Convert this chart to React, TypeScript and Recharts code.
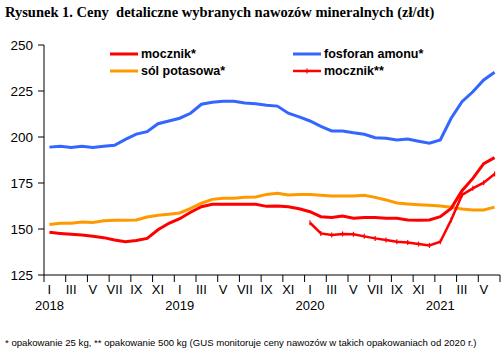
import React from 'react';
import { LineChart, Line, XAxis, YAxis } from 'recharts';

const ROMAN = ['I', 'II', 'III', 'IV', 'V', 'VI', 'VII', 'VIII', 'IX', 'X', 'XI', 'XII'];
const YEARS = ['2018', '2019', '2020', '2021'];

// monthly prices, I 2018 - VI 2021 (zł/dt)
const mocznik25 = [
  148.2, 147.6, 147.1, 146.7, 146, 145.3, 144, 143.1, 143.8, 144.9, 149.6, 153.1,
  155.6, 159.1, 162.1, 163.4, 163.4, 163.4, 163.4, 163.4, 162.3, 162.5, 162.1, 161,
  159.4, 156.7, 156.3, 157, 155.8, 156.3, 156.2, 155.8, 155.8, 154.9, 154.7, 154.9,
  156.7, 161.2, 170.8, 177.5, 185.5, 188.8,
];
const fosforan = [
  194.5, 195, 194.3, 195, 194.3, 195, 195.5, 198.7, 201.6, 202.9, 207.2, 208.7,
  210.2, 212.9, 217.8, 218.9, 219.4, 219.4, 218.5, 218.1, 217.3, 216.8, 212.9, 210.9,
  208.7, 205.8, 203.3, 203.3, 202.3, 201.5, 199.6, 199.3, 198.4, 198.9, 197.7, 196.6,
  198.4, 210.2, 219.2, 224.6, 231, 235.2,
];
const solPotasowa = [
  152.5, 153.1, 153.1, 153.8, 153.6, 154.5, 154.7, 154.7, 154.9, 156.5, 157.5, 158,
  158.7, 161.2, 164, 166.1, 166.7, 166.7, 167.2, 167.4, 168.8, 169.4, 168.5, 168.8,
  168.8, 168.3, 167.9, 167.9, 167.9, 168.3, 167.2, 165.8, 164.1, 163.6, 163.2, 162.9,
  162.5, 161.8, 160.9, 160.3, 160.3, 161.9,
];
// 500 kg bags only monitored from 2020
const mocznik500 = [
  null, null, null, null, null, null, null, null, null, null, null, null,
  null, null, null, null, null, null, null, null, null, null, null, null,
  153.4, 147.6, 146.7, 147.3, 147.1, 146, 144.9, 144, 143.1, 142.6, 141.8, 141.1,
  143.1, 154.9, 168.5, 172.1, 175.2, 179.9,
];

const Y_TICKS = [125, 150, 175, 200, 225, 250];

const data = mocznik25.map((v, i) => ({
  i,
  mocznik25: v,
  fosforan: fosforan[i],
  solPotasowa: solPotasowa[i],
  mocznik500: mocznik500[i],
}));

const N = data.length;
// tick marks sit on month boundaries, every second month
const X_TICKS = Array.from({ length: N / 2 + 1 }, (_, k) => -0.5 + 2 * k);

const PLOT_W = 456;
const STEP = PLOT_W / N;
const FONT = '"Liberation Sans", Arial, sans-serif';

const COLORS = {
  mocznik: '#ff0000',
  fosforan: '#3366ff',
  sol: '#ff9900',
};

function MonthTick(props: any) {
  const { x, y, payload } = props;
  const m = payload.value + 0.5;
  const cx = x + STEP / 2;
  return (
    <g>
      <line x1={x} x2={x} y1={y} y2={y + 7} stroke="#000" strokeWidth={1} />
      {m < N && (
        <text x={cx} y={y + 19} textAnchor="middle" fontSize={13} fontFamily={FONT} fill="#000">
          {ROMAN[m % 12]}
        </text>
      )}
      {m < N && m % 12 === 0 && (
        <text x={cx} y={y + 35} textAnchor="middle" fontSize={13} fontFamily={FONT} fill="#000">
          {YEARS[m / 12]}
        </text>
      )}
    </g>
  );
}

function PlusDot(props: any) {
  const { cx, cy, index } = props;
  if (cx == null || cy == null) return <g key={`d-${index}`} />;
  return (
    <g key={`d-${index}`}>
      <line x1={cx} x2={cx} y1={cy - 2.5} y2={cy + 2.5} stroke={COLORS.mocznik} strokeWidth={1.2} />
    </g>
  );
}

const legendItems = [
  { name: 'mocznik*', color: COLORS.mocznik, left: 110, top: 46, plus: false },
  { name: 'fosforan amonu*', color: COLORS.fosforan, left: 293, top: 46, plus: false },
  { name: 'sól potasowa*', color: COLORS.sol, left: 110, top: 63, plus: false },
  { name: 'mocznik**', color: COLORS.mocznik, left: 293, top: 63, plus: true },
];

export default function App() {
  return (
    <div style={{ position: 'absolute', left: 0, top: 0, width: 503, height: 353, background: '#fff' }}>
      <div
        style={{
          position: 'absolute',
          left: 5,
          top: 4,
          fontFamily: '"Liberation Serif", "Times New Roman", serif',
          fontWeight: 'bold',
          fontSize: 14.5,
          whiteSpace: 'pre',
          lineHeight: '17px',
        }}
      >
        {'Rysunek 1. Ceny  detaliczne wybranych nawozów mineralnych (zł/dt)'}
      </div>

      <LineChart width={503} height={353} data={data} margin={{ top: 45, right: 3, bottom: 33, left: 4 }}>
        <XAxis
          dataKey="i"
          type="number"
          domain={[-0.5, N - 0.5]}
          ticks={X_TICKS}
          interval={0}
          tickSize={0}
          tickMargin={0}
          tickLine={false}
          tick={<MonthTick />}
          height={45}
          axisLine={{ stroke: '#000' }}
        />
        <YAxis
          domain={[125, 250]}
          ticks={Y_TICKS}
          interval={0}
          width={40}
          tickSize={6}
          tickMargin={5}
          axisLine={{ stroke: '#000' }}
          tickLine={{ stroke: '#000' }}
          tick={{ fontSize: 13.5, fontFamily: FONT, fill: '#000' }}
        />
        <Line dataKey="solPotasowa" stroke={COLORS.sol} strokeWidth={3} dot={false} isAnimationActive={false} />
        <Line dataKey="fosforan" stroke={COLORS.fosforan} strokeWidth={3} dot={false} isAnimationActive={false} />
        <Line dataKey="mocznik25" stroke={COLORS.mocznik} strokeWidth={3} dot={false} isAnimationActive={false} />
        <Line
          dataKey="mocznik500"
          stroke={COLORS.mocznik}
          strokeWidth={2.5}
          dot={<PlusDot />}
          isAnimationActive={false}
        />
      </LineChart>

      {legendItems.map((item) => (
        <div
          key={item.name}
          style={{ position: 'absolute', left: item.left, top: item.top, height: 16, display: 'flex', alignItems: 'center' }}
        >
          <svg width={29} height={16}>
            <line x1={0} x2={28} y1={8} y2={8} stroke={item.color} strokeWidth={item.plus ? 2.5 : 3} />
            {item.plus && <line x1={14} x2={14} y1={5.5} y2={10.5} stroke={item.color} strokeWidth={1.2} />}
          </svg>
          <span style={{ fontFamily: FONT, fontWeight: 'bold', fontSize: 12.5, marginLeft: 2, color: '#000' }}>
            {item.name}
          </span>
        </div>
      ))}

      <div
        style={{
          position: 'absolute',
          left: 5,
          top: 337,
          fontFamily: FONT,
          fontSize: 9.6,
          whiteSpace: 'pre',
          lineHeight: '12px',
        }}
      >
        {'* opakowanie 25 kg, ** opakowanie 500 kg (GUS monitoruje ceny nawozów w takich opakowaniach od 2020 r.)'}
      </div>
    </div>
  );
}
